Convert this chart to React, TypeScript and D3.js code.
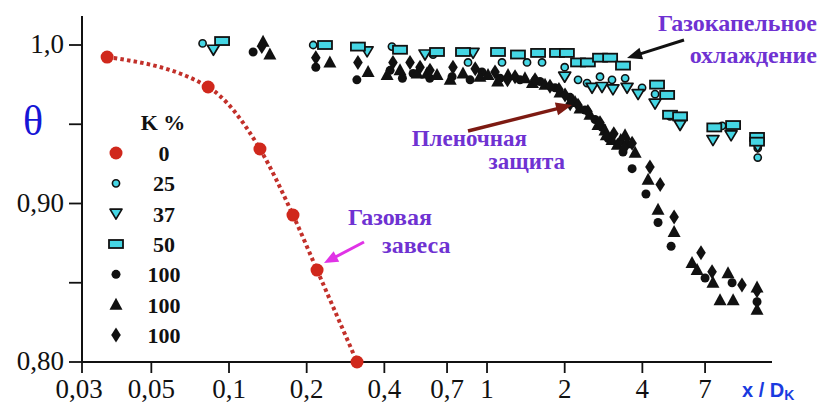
import React from "react";
import * as d3 from "d3";

const W = 819;
const H = 403;

const xTickValues = [0.03, 0.05, 0.1, 0.2, 0.4, 0.7, 1, 2, 4, 7];
const xTickLabels = ["0,03", "0,05", "0,1", "0,2", "0,4", "0,7", "1", "2", "4", "7"];
const yTickValues = [0.8, 0.85, 0.9, 0.95, 1.0];
const yTickLabels = ["0,80", "", "0,90", "", "1,0"];

const legendLabels = ["0", "25", "37", "50", "100", "100", "100"];

// K = 0 % (gas curtain)
const k0: [number, number][] = [
  [0.0337, 0.9924], [0.083, 0.9735], [0.1318, 0.9344], [0.177, 0.8927], [0.2194, 0.858], [0.3134, 0.8],
];
// K = 25 %
const k25: [number, number][] = [
  [0.079, 1.001], [0.212, 1.0], [0.428, 0.999], [0.618, 0.994], [0.844, 0.989], [1.143, 0.989],
  [1.429, 0.989], [1.634, 0.989], [2.0, 0.986], [2.253, 0.978], [2.442, 0.976], [2.741, 0.98],
  [3.05, 0.978], [3.43, 0.979], [3.99, 0.973], [4.48, 0.969], [5.12, 0.955], [8.15, 0.949],
  [11.2, 0.935], [11.2, 0.929],
];
// K = 37 %
const k37: [number, number][] = [
  [0.087, 0.997], [0.343, 0.996], [0.575, 0.994], [0.883, 0.995], [2.0, 0.98], [2.553, 0.973],
  [2.79, 0.9735], [3.077, 0.972], [3.49, 0.973], [3.85, 0.969], [4.48, 0.963], [5.6, 0.9495],
  [7.51, 0.94], [8.83, 0.943], [11.2, 0.936],
];
// K = 50 %
const k50: [number, number][] = [
  [0.094, 1.0025], [0.2355, 1.0], [0.316, 0.999], [0.46, 0.997], [0.64, 0.9956], [0.807, 0.9956],
  [1.103, 0.9956], [1.318, 0.994], [1.577, 0.995], [1.867, 0.995], [2.04, 0.995], [2.253, 0.989],
  [2.46, 0.989], [2.741, 0.992], [3.0, 0.992], [3.365, 0.987], [4.56, 0.975], [4.99, 0.9685],
  [5.12, 0.956], [5.6, 0.955], [7.6, 0.948], [8.99, 0.9495], [11.13, 0.942], [11.13, 0.939],
];
// K = 100 % (circles)
const k100a: [number, number][] = [
  [0.124, 0.9956], [0.217, 0.986], [0.313, 0.978], [0.421, 0.984], [0.47, 0.979], [0.517, 0.982],
  [0.6, 0.979], [0.732, 0.98], [0.86, 0.978], [0.956, 0.983], [1.123, 0.979], [1.342, 0.978],
  [1.604, 0.977], [1.835, 0.973], [2.098, 0.967], [2.398, 0.959], [2.622, 0.953], [2.79, 0.948],
  [2.95, 0.941], [3.365, 0.9325], [3.65, 0.922], [4.13, 0.906], [4.6, 0.888], [5.17, 0.873],
  [7.0, 0.853], [8.91, 0.85], [11.13, 0.838],
];
// K = 100 % (triangles)
const k100b: [number, number][] = [
  [0.1355, 1.002], [0.144, 0.994], [0.246, 0.989], [0.346, 0.983], [0.41, 0.981], [0.46, 0.984],
  [0.536, 0.982], [0.585, 0.982], [0.64, 0.981], [0.72, 0.978], [0.807, 0.982], [0.939, 0.98],
  [1.009, 0.981], [1.1, 0.977], [1.206, 0.981], [1.403, 0.979], [1.5, 0.976], [1.678, 0.975],
  [1.918, 0.97], [2.193, 0.964], [2.293, 0.96], [2.506, 0.956], [2.692, 0.9495], [2.866, 0.946],
  [2.9, 0.943], [3.05, 0.94], [3.2, 0.937], [3.3, 0.94], [3.427, 0.943], [3.49, 0.938],
  [3.75, 0.932], [4.21, 0.915], [4.6, 0.896], [5.31, 0.882], [6.23, 0.8625], [6.52, 0.858],
  [7.51, 0.85], [8.59, 0.856], [8.0, 0.839], [8.99, 0.839], [11.13, 0.847], [11.13, 0.833],
];
// K = 100 % (diamonds)
const k100c: [number, number][] = [
  [0.134, 0.999], [0.217, 0.992], [0.316, 0.989], [0.432, 0.989], [0.503, 0.989], [0.55, 0.986],
  [0.601, 0.984], [0.738, 0.986], [0.9, 0.985], [1.074, 0.983], [1.2, 0.978], [1.284, 0.98],
  [1.535, 0.978], [1.754, 0.974], [1.9, 0.972], [2.006, 0.9685], [2.1, 0.963], [2.253, 0.962],
  [2.46, 0.958], [2.741, 0.951], [3.1, 0.944], [3.4, 0.935], [3.65, 0.938], [4.28, 0.923],
  [4.69, 0.912], [5.31, 0.8915], [6.75, 0.869], [7.45, 0.857], [9.73, 0.8486], [11.13, 0.845],
];

const RED = "#d0281c";
const CYAN = "#45d6e4";
const STROKE = "#111";
const PURPLE = "#6f32d2";
const SERIF = "'Liberation Serif', 'Times New Roman', Times, serif";
const SANS = "'Liberation Sans', Arial, sans-serif";

type Shape = "redDot" | "cCircle" | "cDown" | "cRect" | "bCircle" | "bTri" | "bDiamond";

function Marker({ shape, cx, cy }: { shape: Shape; cx: number; cy: number }) {
  switch (shape) {
    case "redDot":
      return <circle cx={cx} cy={cy} r={6.5} fill={RED} />;
    case "cCircle":
      return <circle cx={cx} cy={cy} r={3.6} fill={CYAN} stroke={STROKE} strokeWidth={1.6} />;
    case "cDown":
      return (
        <path
          d={`M${cx - 6},${cy - 4.5}L${cx + 6},${cy - 4.5}L${cx},${cy + 5.5}Z`}
          fill={CYAN}
          stroke={STROKE}
          strokeWidth={1.7}
          strokeLinejoin="round"
        />
      );
    case "cRect":
      return <rect x={cx - 7} y={cy - 4} width={14} height={8} fill={CYAN} stroke={STROKE} strokeWidth={1.8} />;
    case "bCircle":
      return <circle cx={cx} cy={cy} r={4.5} fill={STROKE} />;
    case "bTri":
      return <path d={`M${cx},${cy - 7}L${cx + 6.5},${cy + 5}L${cx - 6.5},${cy + 5}Z`} fill={STROKE} />;
    case "bDiamond":
      return <path d={`M${cx},${cy - 7.5}L${cx + 4.8},${cy}L${cx},${cy + 7.5}L${cx - 4.8},${cy}Z`} fill={STROKE} />;
  }
  return null;
}

function Arrow({ x1, y1, x2, y2, color, width, head, headW }: {
  x1: number; y1: number; x2: number; y2: number; color: string; width: number; head: number; headW: number;
}) {
  const dx = x2 - x1;
  const dy = y2 - y1;
  const len = Math.hypot(dx, dy);
  const ux = dx / len;
  const uy = dy / len;
  const bx = x2 - ux * head;
  const by = y2 - uy * head;
  const px = -uy * headW / 2;
  const py = ux * headW / 2;
  return (
    <g>
      <line x1={x1} y1={y1} x2={bx + ux * 2} y2={by + uy * 2} stroke={color} strokeWidth={width} />
      <path d={`M${x2},${y2}L${bx + px},${by + py}L${bx - px},${by - py}Z`} fill={color} />
    </g>
  );
}

export default function App() {
  const x = d3.scaleLog().domain([0.02693, 12.72]).range([82, 772]);
  const y = d3.scaleLinear().domain([0.8, 1.0183]).range([362, 16]);

  const x0 = x.range()[0];
  const x1 = x.range()[1];
  const yBottom = y(0.8);
  const yTop = y.range()[1];

  const tickX = (v: number, i: number) => (i === 0 ? x(x.domain()[0]) : x(v));

  const line = d3
    .line<[number, number]>()
    .x((d) => x(d[0]))
    .y((d) => y(d[1]))
    .curve(d3.curveMonotoneX);

  const series: { data: [number, number][]; shape: Shape }[] = [
    { data: k100a, shape: "bCircle" },
    { data: k100b, shape: "bTri" },
    { data: k100c, shape: "bDiamond" },
    { data: k25, shape: "cCircle" },
    { data: k37, shape: "cDown" },
    { data: k50, shape: "cRect" },
  ];

  const legendShapes: Shape[] = ["redDot", "cCircle", "cDown", "cRect", "bCircle", "bTri", "bDiamond"];
  const legendY = d3.scaleLinear().domain([0, 6]).range([153, 335]);

  return (
    <svg
      width={W}
      height={H}
      viewBox={`0 0 ${W} ${H}`}
      style={{ position: "absolute", left: 0, top: 0, background: "#fff" }}
    >
      <rect x={0} y={0} width={W} height={H} fill="#fff" />

      {/* axes */}
      <line x1={x0} y1={yTop} x2={x0} y2={yBottom + 1} stroke="#111" strokeWidth={2} />
      <line x1={x0 - 1} y1={yBottom} x2={x1} y2={yBottom} stroke="#111" strokeWidth={2} />

      {yTickValues.map((v, i) => (
        <g key={"yt" + i}>
          <line x1={x0 - 13} x2={x0} y1={y(v)} y2={y(v)} stroke="#111" strokeWidth={1.8} />
          {yTickLabels[i] && (
            <text
              x={x0 - 18}
              y={y(v) + 8}
              textAnchor="end"
              fontFamily={SERIF}
              fontSize={27}
              fill="#111"
            >
              {yTickLabels[i]}
            </text>
          )}
        </g>
      ))}

      {xTickValues.map((v, i) => (
        <g key={"xt" + i}>
          <line x1={tickX(v, i)} x2={tickX(v, i)} y1={yBottom} y2={yBottom + 11} stroke="#111" strokeWidth={1.8} />
          <text
            x={tickX(v, i) - (i === 0 ? 3 : 0)}
            y={398}
            textAnchor="middle"
            fontFamily={SERIF}
            fontSize={27}
            fill="#111"
          >
            {xTickLabels[i]}
          </text>
        </g>
      ))}

      {/* axis titles */}
      <text x={33} y={135} textAnchor="middle" fontFamily={SERIF} fontSize={42} fill="#1616d6">
        θ
      </text>
      <text x={742} y={397} fontFamily={SANS} fontWeight="bold" fontSize={20} fill="#1a3be0">
        x / D
        <tspan fontSize={14} dy={3}>
          K
        </tspan>
      </text>

      {/* scatter series */}
      {series.map((s, si) => (
        <g key={"s" + si}>
          {s.data.map((d, i) => (
            <Marker key={i} shape={s.shape} cx={x(d[0])} cy={y(d[1])} />
          ))}
        </g>
      ))}

      {/* K = 0 curve */}
      <path
        d={line(k0) || ""}
        fill="none"
        stroke="#c2302a"
        strokeWidth={4}
        strokeDasharray="3.5 3.2"
      />
      {k0.map((d, i) => (
        <Marker key={"r" + i} shape="redDot" cx={x(d[0])} cy={y(d[1])} />
      ))}

      {/* legend */}
      <text x={163} y={130} textAnchor="middle" fontFamily={SERIF} fontWeight="bold" fontSize={22} fill="#111">
        K %
      </text>
      {legendShapes.map((s, i) => (
        <g key={"lg" + i}>
          <Marker shape={s} cx={116} cy={legendY(i)} />
          <text
            x={164}
            y={legendY(i) + 8}
            textAnchor="middle"
            fontFamily={SERIF}
            fontWeight="bold"
            fontSize={22}
            fill="#111"
          >
            {legendLabels[i]}
          </text>
        </g>
      ))}

      {/* annotations */}
      <text x={348} y={225} fontFamily={SERIF} fontWeight="bold" fontSize={24} fill={PURPLE}>
        Газовая
      </text>
      <text x={382} y={253} fontFamily={SERIF} fontWeight="bold" fontSize={24} fill={PURPLE}>
        завеса
      </text>
      <Arrow x1={364} y1={242} x2={324} y2={263} color="#e033e6" width={3} head={14} headW={12} />

      <text x={527} y={146} textAnchor="end" fontFamily={SERIF} fontWeight="bold" fontSize={23} fill={PURPLE}>
        Пленочная
      </text>
      <text x={565} y={169} textAnchor="end" fontFamily={SERIF} fontWeight="bold" fontSize={23} fill={PURPLE}>
        защита
      </text>
      <Arrow x1={468} y1={131} x2={572} y2={105} color="#7d1a12" width={3.5} head={16} headW={13} />

      <text x={817} y={31} textAnchor="end" fontFamily={SERIF} fontWeight="bold" fontSize={24} fill={PURPLE}>
        Газокапельное
      </text>
      <text x={817} y={63} textAnchor="end" fontFamily={SERIF} fontWeight="bold" fontSize={24} fill={PURPLE}>
        охлаждение
      </text>
      <Arrow x1={684} y1={40} x2={627} y2={58} color="#111" width={3} head={15} headW={12} />
    </svg>
  );
}
